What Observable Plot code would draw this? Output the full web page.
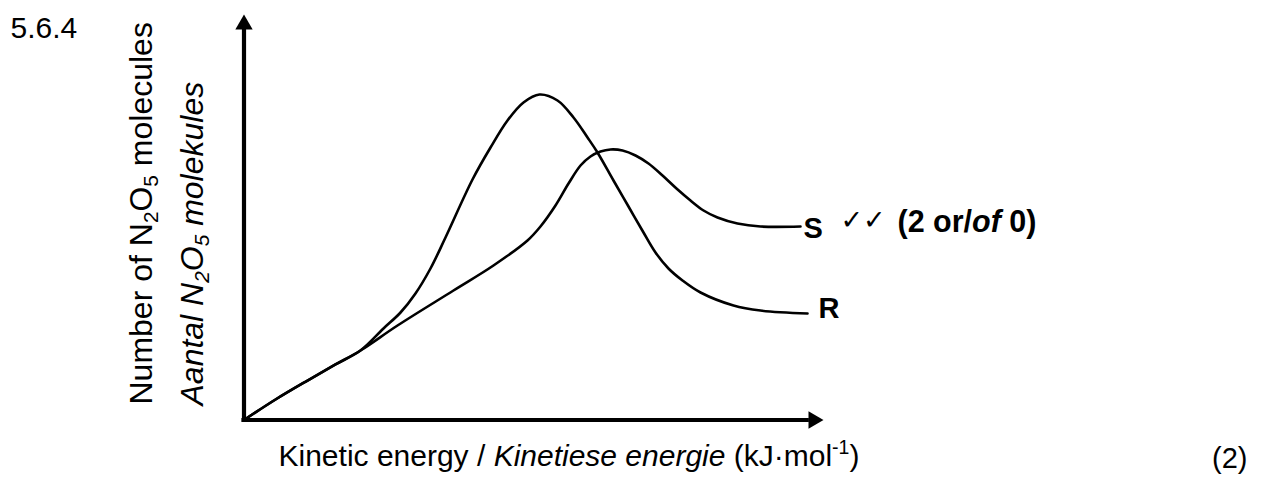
<!DOCTYPE html>
<html>
<head>
<meta charset="utf-8">
<script src="https://cdn.jsdelivr.net/npm/d3@7"></script>
<script src="https://cdn.jsdelivr.net/npm/@observablehq/plot@0.6"></script>
<style>
  html, body { margin: 0; padding: 0; background: #fff; }
  #chart svg { display: block; }
</style>
</head>
<body>
<div id="chart"></div>
<script>
// ---- data ----
const energyR = [0, 0.544, 1.096, 1.579, 2.010, 2.407, 2.701, 2.959, 3.218, 3.477, 3.943, 4.254, 4.547, 4.823, 5.099, 5.410, 5.686, 5.928, 6.100, 6.376, 6.635, 6.894, 7.101, 7.325, 7.567, 7.878, 8.447, 8.913, 9.724];
const countR  = [0, 0.506, 0.974, 1.369, 1.714, 2.257, 2.651, 3.120, 3.736, 4.501, 5.931, 6.720, 7.386, 7.830, 8.027, 7.879, 7.460, 6.967, 6.597, 5.906, 5.265, 4.624, 4.131, 3.736, 3.440, 3.144, 2.824, 2.700, 2.626];
const energyS = [0, 0.544, 1.096, 1.579, 2.010, 2.649, 3.615, 4.305, 4.892, 5.116, 5.375, 5.600, 5.807, 5.979, 6.152, 6.325, 6.532, 6.756, 6.980, 7.222, 7.463, 7.705, 7.930, 8.171, 8.516, 8.913, 9.603];
const countS  = [0, 0.506, 0.974, 1.369, 1.714, 2.330, 3.194, 3.810, 4.427, 4.772, 5.290, 5.832, 6.276, 6.498, 6.621, 6.671, 6.646, 6.523, 6.325, 6.029, 5.709, 5.413, 5.166, 4.994, 4.846, 4.772, 4.772];
const seriesLabels = ["S", "R"];
const questionNo = ["5.6.4"];
const yTitleLines = ["Number of N2O5 molecules", "Aantal N2O5 molekules"];
const xTitle = ["Kinetic energy / Kinetiese energie (kJ·mol-1)"];
const ticksText = ["✓✓"];
const markRule = ["(2 or/of 0)"];
const markTotal = ["(2)"];
const xDomain = [0, 10];
const yDomain = [0, 10];

// ---- build tables ----
const rData = energyR.map((x, i) => ({x, y: countR[i]}));
const sData = energyS.map((x, i) => ({x, y: countS[i]}));
const sEnd = [{...sData[sData.length - 1], label: seriesLabels[0]}];
const rEnd = [{...rData[rData.length - 1], label: seriesLabels[1]}];

const W = 1261, H = 484;
const mL = 243.5, mR = 438, mT = 14, mB = 64.5;
const font = '"Liberation Sans", Arial, Helvetica, sans-serif';

const tl = (o) => ({frameAnchor: "top-left", text: d => d, textAnchor: "start", lineAnchor: "bottom", fill: "black", ...o});

const svg = Plot.plot({
  width: W, height: H,
  marginLeft: mL, marginRight: mR, marginTop: mT, marginBottom: mB,
  x: {domain: xDomain, axis: null},
  y: {domain: yDomain, axis: null},
  style: {fontFamily: font, background: "white", color: "black", overflow: "visible"},
  marks: [
    // axes with filled arrow heads
    Plot.ruleX([xDomain[0]], {y1: yDomain[0], y2: yDomain[1] * 0.96, stroke: "black", strokeWidth: 4.2, strokeLinecap: "square"}),
    Plot.ruleY([yDomain[0]], {x1: xDomain[0], x2: xDomain[1] * 0.972, stroke: "black", strokeWidth: 4.2, strokeLinecap: "square"}),
    Plot.dot([{x: xDomain[0], y: yDomain[1]}], {x: "x", y: "y", symbol: "triangle", r: 6.43, fill: "black", stroke: "none", dy: 10}),
    Plot.dot([{x: xDomain[1], y: yDomain[0]}], {x: "x", y: "y", symbol: "triangle", r: 6.43, fill: "black", stroke: "none", rotate: 90, dx: -10}),
    // curves
    Plot.line(sData, {x: "x", y: "y", curve: "catmull-rom", stroke: "black", strokeWidth: 2.6}),
    Plot.line(rData, {x: "x", y: "y", curve: "catmull-rom", stroke: "black", strokeWidth: 2.6}),
    // series labels
    Plot.text(sEnd, {x: "x", y: "y", text: "label", textAnchor: "start", lineAnchor: "bottom", dx: 3, dy: 12, fontSize: 29, fontWeight: "bold", fill: "black"}),
    Plot.text(rEnd, {x: "x", y: "y", text: "label", textAnchor: "start", lineAnchor: "bottom", dx: 11, dy: 4, fontSize: 29, fontWeight: "bold", fill: "black"}),
    // texts
    Plot.text(questionNo, tl({dx: 10 - mL, dy: 37 - mT, fontSize: 30})),
    Plot.text([yTitleLines[0]], tl({rotate: -90, dx: 151 - mL, dy: 404 - mT, fontSize: 32})),
    Plot.text([yTitleLines[1]], tl({rotate: -90, dx: 202 - mL, dy: 405 - mT, fontSize: 32, fontStyle: "italic"})),
    Plot.text(xTitle, tl({dx: 278 - mL, dy: 465 - mT, fontSize: 30})),
    Plot.text(markTotal, tl({textAnchor: "end", dx: 1247 - mL, dy: 467 - mT, fontSize: 29})),
    Plot.text(ticksText, tl({dx: 840 - mL, dy: 228 - mT, fontSize: 27, fontFamily: '"DejaVu Sans", sans-serif'})),
    Plot.text(markRule, tl({dx: 897 - mL, dy: 231 - mT, fontSize: 30.5, fontWeight: "bold"}))
  ]
});

// ---- rich text (sub/superscripts, italics) ----
function segmentize(str, rules) {
  let segs = [{t: str, kind: null}];
  for (const [sub, kind] of rules) {
    segs = segs.flatMap(s => {
      if (s.kind) return [s];
      const parts = s.t.split(sub);
      const out = [];
      parts.forEach((p, i) => { if (i) out.push({t: sub, kind}); if (p) out.push({t: p, kind: null}); });
      return out;
    });
  }
  return segs;
}
function rich(str, rules, F) {
  const t = Array.from(svg.querySelectorAll("text")).find(e => e.textContent === str);
  if (!t) return;
  const segs = segmentize(str, rules);
  t.textContent = "";
  let cur = 0;
  for (const s of segs) {
    const ts = document.createElementNS("http://www.w3.org/2000/svg", "tspan");
    let target = 0;
    if (s.kind === "sub") { target = 0.2 * F; ts.setAttribute("font-size", 0.65 * F); }
    if (s.kind === "sup") { target = -0.38 * F; ts.setAttribute("font-size", 0.65 * F); }
    if (s.kind === "italic") ts.setAttribute("font-style", "italic");
    if (target !== cur) ts.setAttribute("dy", target - cur);
    cur = target;
    ts.textContent = s.t;
    t.appendChild(ts);
  }
}
rich(yTitleLines[0], [["2", "sub"], ["5", "sub"]], 32);
rich(yTitleLines[1], [["2", "sub"], ["5", "sub"]], 32);
rich(xTitle[0], [["Kinetiese energie", "italic"], ["-1", "sup"]], 30);
rich(markRule[0], [["of", "italic"]], 30.5);

document.getElementById("chart").appendChild(svg);
</script>
</body>
</html>
